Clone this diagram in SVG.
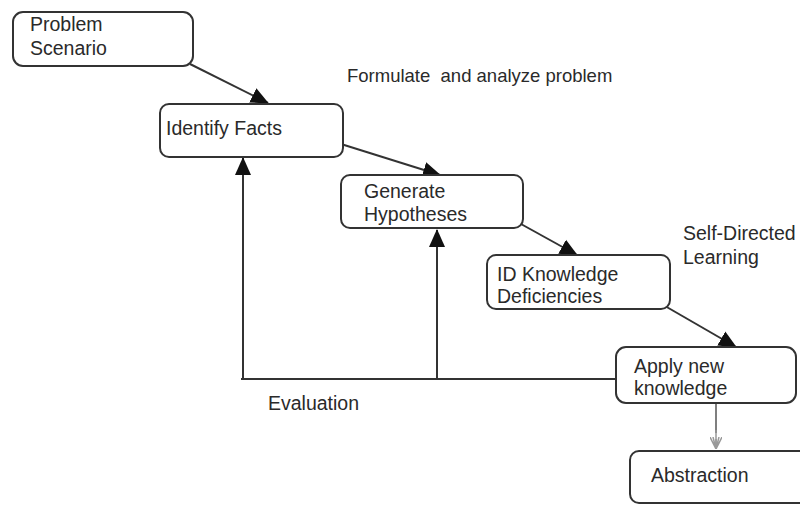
<svg xmlns="http://www.w3.org/2000/svg" width="800" height="506" viewBox="0 0 800 506">
<defs>
<style>
.box{fill:#fff;stroke:#333;stroke-width:2}
.t{font-family:"Liberation Sans",Arial,sans-serif;font-size:19.5px;fill:#2a2a2a}
.ln{stroke:#333;stroke-width:2;fill:none}
</style>
<marker id="ah" markerWidth="18" markerHeight="18" viewBox="0 0 18 18" refX="17" refY="9" orient="auto" markerUnits="userSpaceOnUse">
<path d="M0,1 L18,9 L0,17 Z" fill="#111"/>
</marker>
<marker id="ahg" markerWidth="12" markerHeight="12" viewBox="0 0 12 12" refX="12" refY="6" orient="auto" markerUnits="userSpaceOnUse">
<path d="M0,0 L12,6 L0,12 M2,6 L12,6 M0,3 L12,6 M0,9 L12,6" fill="none" stroke="#999" stroke-width="1.5"/>
</marker>
</defs>
<rect width="800" height="506" fill="#fff"/>
<g id="connectors">
<line class="ln" x1="190" y1="64" x2="268" y2="103" marker-end="url(#ah)"/>
<line class="ln" x1="341" y1="144" x2="440" y2="175" marker-end="url(#ah)"/>
<line class="ln" x1="521" y1="224" x2="577" y2="255" marker-end="url(#ah)"/>
<line class="ln" x1="665" y1="306" x2="736" y2="347" marker-end="url(#ah)"/>
<line class="ln" x1="241" y1="379" x2="617" y2="379"/>
<line class="ln" x1="243" y1="379" x2="243" y2="158" marker-end="url(#ah)"/>
<line class="ln" x1="437" y1="379" x2="437" y2="230" marker-end="url(#ah)"/>
<line x1="716" y1="403" x2="716" y2="433" stroke="#555" stroke-width="1.5"/>
<line x1="716" y1="430" x2="716" y2="449" stroke="#999" stroke-width="1.5" marker-end="url(#ahg)"/>
</g>
<g id="problem-scenario">
<rect class="box" x="13" y="12" width="180" height="54" rx="10"/>
<text class="t" x="30" y="31">Problem</text>
<text class="t" x="30" y="55">Scenario</text>
</g>
<g id="identify-facts">
<rect class="box" x="160" y="104" width="183" height="53" rx="9"/>
<text class="t" x="166" y="135">Identify Facts</text>
</g>
<g id="generate-hypotheses">
<rect class="box" x="341" y="175" width="182" height="53" rx="9"/>
<text class="t" x="364" y="198">Generate</text>
<text class="t" x="364" y="221">Hypotheses</text>
</g>
<g id="id-knowledge">
<rect class="box" x="487" y="255" width="183" height="54" rx="9"/>
<text class="t" x="497" y="281">ID Knowledge</text>
<text class="t" x="497" y="303">Deficiencies</text>
</g>
<g id="apply-knowledge">
<rect class="box" x="616" y="347" width="180" height="56" rx="10"/>
<text class="t" x="634" y="373">Apply new</text>
<text class="t" x="634" y="395">knowledge</text>
</g>
<g id="abstraction">
<rect class="box" x="630" y="451" width="190" height="52" rx="9"/>
<text class="t" x="651" y="482">Abstraction</text>
</g>
<g id="labels">
<text class="t" x="347" y="82" style="font-size:18.5px" xml:space="preserve">Formulate  and analyze problem</text>
<text class="t" x="683" y="240">Self-Directed</text>
<text class="t" x="683" y="264">Learning</text>
<text class="t" x="268" y="410">Evaluation</text>
</g>
</svg>
